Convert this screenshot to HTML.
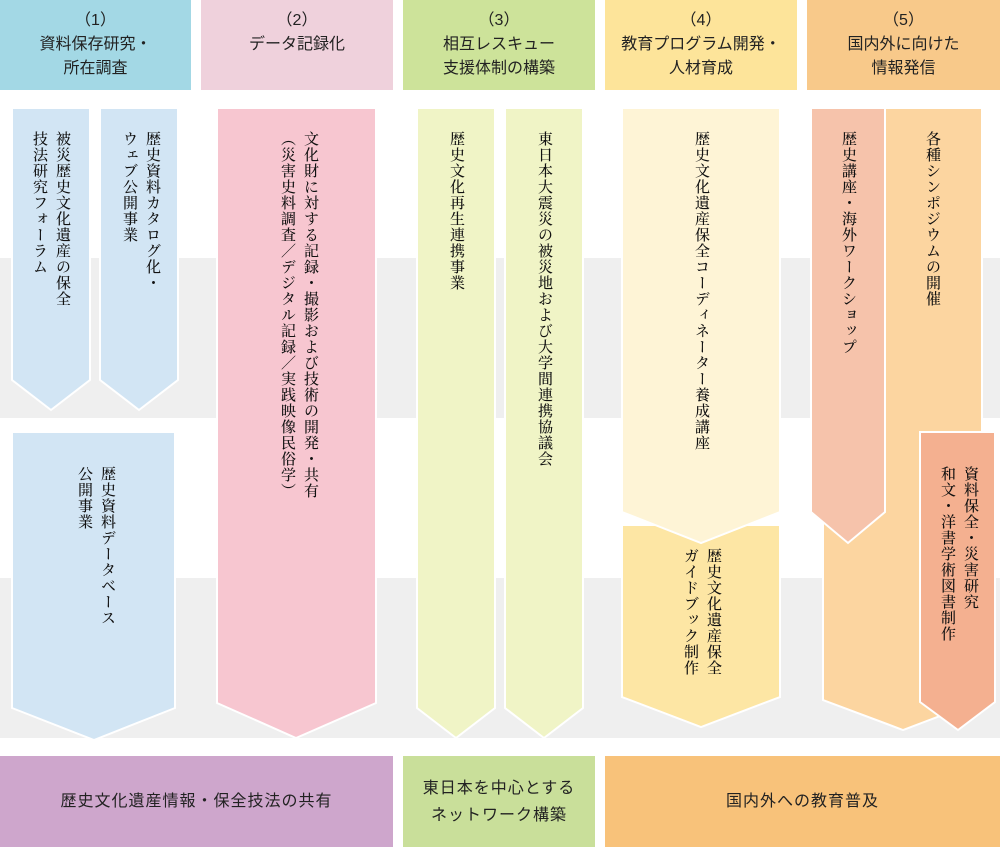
<!DOCTYPE html>
<html><head><meta charset="utf-8"><style>
body{margin:0;background:#fff}
#c{position:relative;width:1000px;height:847px;overflow:hidden;font-family:"Liberation Serif","Noto Serif CJK SC",serif;color:#111}
.h{position:absolute;top:0;height:90px;display:flex;flex-direction:column;align-items:center;justify-content:center;font-family:"Liberation Sans","Noto Sans CJK JP",sans-serif;font-size:16px;line-height:24px;color:#222;text-align:center}
.b{position:absolute;top:756px;height:91px;display:flex;flex-direction:column;align-items:center;justify-content:center;font-family:"Liberation Sans","Noto Sans CJK JP",sans-serif;font-size:16px;letter-spacing:1px;line-height:27px;color:#222;text-align:center}
.v{position:absolute;writing-mode:vertical-rl;font-size:15px;line-height:23px;letter-spacing:1px;white-space:nowrap;font-weight:500}
</style></head><body><div id="c">
<svg width="1000" height="847" style="position:absolute;left:0;top:0">
<rect x="0" y="258" width="1000" height="160" fill="#efefef"/>
<rect x="0" y="578" width="1000" height="160" fill="#efefef"/>
<g stroke="#fff" stroke-width="2">
<polygon points="12,108 90,108 90,380 51,410 12,380" fill="#d2e5f4"/>
<polygon points="100,108 178,108 178,380 139,410 100,380" fill="#d2e5f4"/>
<polygon points="12,432 175,432 175,708 94,740 12,708" fill="#d2e5f4"/>
<polygon points="217,108 376,108 376,703 296,738 217,703" fill="#f7c6d0"/>
<polygon points="417,108 495,108 495,708 456,738 417,708" fill="#f0f4c6"/>
<polygon points="505,108 583,108 583,708 544,738 505,708" fill="#f0f4c6"/>
<polygon points="622,525 780,525 780,697 701,727 622,697" fill="#fde6a4"/>
<polygon points="622,108 780,108 780,512 701,543 622,512" fill="#fef4d6"/>
<polygon points="823,108 982,108 982,700 903,730 823,700" fill="#fcd5a0"/>
<polygon points="811,108 885,108 885,512 848,543 811,512" fill="#f6c3ab"/>
<polygon points="920,432 995,432 995,702 958,730 920,702" fill="#f4b090"/>
</g>
</svg>
<div class="h" style="left:0;width:191px;background:#a3d8e5"><div>（1）</div><div>資料保存研究・</div><div>所在調査</div></div>
<div class="h" style="left:201px;width:192px;background:#efd1dc;justify-content:flex-start;padding-top:9px;height:81px"><div>（2）</div><div>データ記録化</div></div>
<div class="h" style="left:403px;width:192px;background:#cde39a"><div>（3）</div><div>相互レスキュー</div><div>支援体制の構築</div></div>
<div class="h" style="left:605px;width:192px;background:#fde49a"><div>（4）</div><div>教育プログラム開発・</div><div>人材育成</div></div>
<div class="h" style="left:807px;width:193px;background:#f8c98a"><div>（5）</div><div>国内外に向けた</div><div>情報発信</div></div>

<div class="v" style="right:927px;top:131px">被災歴史文化遺産の保全<br>技法研究フォーラム</div>
<div class="v" style="right:837px;top:131px">歴史資料カタログ化・<br>ウェブ公開事業</div>
<div class="v" style="right:882px;top:466px">歴史資料データベース<br>公開事業</div>
<div class="v" style="right:679px;top:131px">文化財に対する記録・撮影および技術の開発・共有<br>（災害史料調査／デジタル記録／実践映像民俗学）</div>
<div class="v" style="right:533px;top:131px">歴史文化再生連携事業</div>
<div class="v" style="right:445px;top:131px">東日本大震災の被災地および大学間連携協議会</div>
<div class="v" style="right:288px;top:131px">歴史文化遺産保全コーディネーター養成講座</div>
<div class="v" style="right:276px;top:548px">歴史文化遺産保全<br>ガイドブック制作</div>
<div class="v" style="right:141px;top:131px">歴史講座・海外ワークショップ</div>
<div class="v" style="right:57px;top:131px">各種シンポジウムの開催</div>
<div class="v" style="right:19px;top:466px">資料保全・災害研究<br>和文・洋書学術図書制作</div>

<div class="b" style="left:0;width:393px;background:#cea6cc">歴史文化遺産情報・保全技法の共有</div>
<div class="b" style="left:403px;width:192px;background:#c9df9a"><div>東日本を中心とする</div><div>ネットワーク構築</div></div>
<div class="b" style="left:605px;width:395px;background:#f8c27a">国内外への教育普及</div>
</div></body></html>
